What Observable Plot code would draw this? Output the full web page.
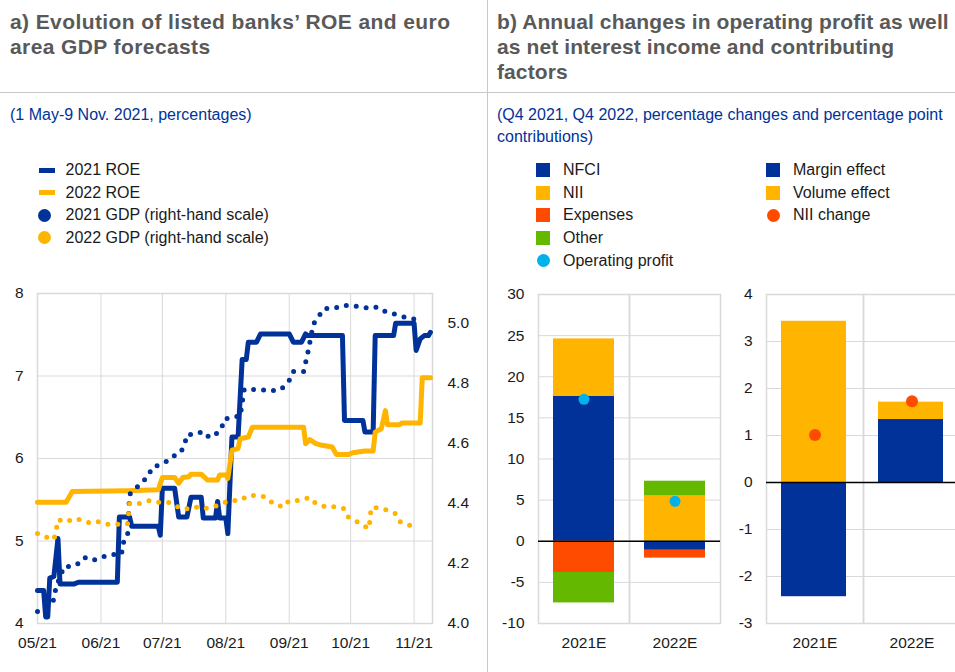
<!DOCTYPE html>
<html><head><meta charset="utf-8">
<script src="https://cdn.jsdelivr.net/npm/d3@7"></script>
<script src="https://cdn.jsdelivr.net/npm/@observablehq/plot@0.6"></script>
<style>
body{margin:0;background:#fff;font-family:"Liberation Sans",Arial,sans-serif;}
#root{position:relative;width:955px;height:672px;overflow:hidden;background:#fff;}
.abs{position:absolute;}
.title{font-weight:bold;color:#595959;font-size:21px;line-height:25px;white-space:nowrap;}
.sub{color:#003299;font-size:16px;line-height:21.5px;white-space:nowrap;}
.leg{font-size:16px;line-height:20px;color:#1a1a1a;white-space:nowrap;}
.sep{background:#c8c8c8;}
</style></head>
<body><div id="root">
<div class="abs sep" style="left:0;top:92px;width:955px;height:1px"></div>
<div class="abs sep" style="left:487px;top:0;width:1px;height:672px"></div>
<div class="abs title" style="left:10px;top:9px;letter-spacing:0.4px">a) Evolution of listed banks’ ROE and euro<br>area GDP forecasts</div>
<div class="abs title" style="left:497px;top:9px;letter-spacing:0.1px">b) Annual changes in operating profit as well<br>as net interest income and contributing<br>factors</div>
<div class="abs sub" style="left:10px;top:104px">(1 May-9 Nov. 2021, percentages)</div>
<div class="abs sub" style="left:497px;top:104px">(Q4 2021, Q4 2022, percentage changes and percentage point<br>contributions)</div>
<div id="legends"></div>
<div id="chartA" class="abs" style="left:0;top:280px;width:487px;height:380px"></div>
<div id="chartB" class="abs" style="left:490px;top:280px;width:232px;height:380px"></div>
<div id="chartC" class="abs" style="left:720px;top:280px;width:240px;height:380px"></div>
</div>
<script>
// ---------- Panel a data ----------
const monthTicks = ["2021-05-01","2021-06-01","2021-07-01","2021-08-01","2021-09-01","2021-10-01","2021-11-01"];
const roeTicks = [4,5,6,7,8];
const gdpTicks = [4.0,4.2,4.4,4.6,4.8,5.0];
const roe2021 = [["2021-05-01",4.40],["2021-05-04",4.40],["2021-05-05",4.08],["2021-05-06",4.08],["2021-05-07",4.55],["2021-05-09",4.57],["2021-05-11",5.03],["2021-05-12",4.48],["2021-05-19",4.48],["2021-05-21",4.50],["2021-06-09",4.50],["2021-06-10",5.29],["2021-06-15",5.29],["2021-06-16",5.18],["2021-06-29",5.18],["2021-06-30",5.07],["2021-07-01",5.64],["2021-07-07",5.64],["2021-07-09",5.29],["2021-07-13",5.29],["2021-07-15",5.53],["2021-07-20",5.53],["2021-07-21",5.28],["2021-07-27",5.28],["2021-07-28",5.48],["2021-07-29",5.28],["2021-08-01",5.28],["2021-08-02",5.09],["2021-08-04",6.26],["2021-08-07",6.26],["2021-08-09",7.20],["2021-08-11",7.20],["2021-08-12",7.41],["2021-08-16",7.41],["2021-08-18",7.51],["2021-09-01",7.51],["2021-09-03",7.41],["2021-09-07",7.41],["2021-09-09",7.51],["2021-09-10",7.49],["2021-09-27",7.49],["2021-09-28",6.46],["2021-10-07",6.46],["2021-10-08",6.32],["2021-10-12",6.32],["2021-10-13",7.49],["2021-10-22",7.49],["2021-10-23",7.64],["2021-11-01",7.64],["2021-11-02",7.31],["2021-11-04",7.45],["2021-11-06",7.49],["2021-11-08",7.49],["2021-11-09",7.53]];
const roe2022 = [["2021-05-01",5.47],["2021-05-15",5.47],["2021-05-18",5.60],["2021-06-14",5.61],["2021-06-29",5.62],["2021-07-01",5.77],["2021-07-07",5.77],["2021-07-09",5.70],["2021-07-11",5.77],["2021-07-14",5.78],["2021-07-15",5.81],["2021-07-20",5.81],["2021-07-23",5.74],["2021-07-28",5.74],["2021-07-29",5.80],["2021-08-01",5.80],["2021-08-02",5.76],["2021-08-04",6.10],["2021-08-07",6.12],["2021-08-08",6.24],["2021-08-12",6.26],["2021-08-14",6.38],["2021-09-08",6.38],["2021-09-09",6.18],["2021-09-11",6.23],["2021-09-14",6.18],["2021-09-17",6.16],["2021-09-22",6.14],["2021-09-24",6.05],["2021-09-30",6.05],["2021-10-02",6.07],["2021-10-08",6.09],["2021-10-12",6.09],["2021-10-13",6.32],["2021-10-16",6.36],["2021-10-18",6.58],["2021-10-19",6.41],["2021-10-25",6.41],["2021-10-26",6.43],["2021-11-04",6.43],["2021-11-05",6.98],["2021-11-09",6.98]];
const gdp2021 = [["2021-05-01",4.04],["2021-05-07",4.06],["2021-05-09",4.08],["2021-05-10",4.12],["2021-05-14",4.19],["2021-05-18",4.19],["2021-05-21",4.20],["2021-05-24",4.22],["2021-05-28",4.21],["2021-06-01",4.22],["2021-06-06",4.23],["2021-06-11",4.23],["2021-06-12",4.27],["2021-06-14",4.29],["2021-06-15",4.43],["2021-06-18",4.45],["2021-06-21",4.47],["2021-06-24",4.49],["2021-06-26",4.52],["2021-06-30",4.53],["2021-07-03",4.54],["2021-07-07",4.56],["2021-07-10",4.57],["2021-07-12",4.60],["2021-07-13",4.63],["2021-07-17",4.63],["2021-07-21",4.64],["2021-07-24",4.62],["2021-07-27",4.63],["2021-07-30",4.65],["2021-07-31",4.68],["2021-08-05",4.69],["2021-08-08",4.69],["2021-08-10",4.78],["2021-08-18",4.78],["2021-08-23",4.775],["2021-08-28",4.78],["2021-09-01",4.81],["2021-09-03",4.84],["2021-09-08",4.84],["2021-09-10",4.90],["2021-09-12",4.97],["2021-09-13",5.00],["2021-09-15",5.02],["2021-09-18",5.05],["2021-09-23",5.05],["2021-09-27",5.06],["2021-10-01",5.06],["2021-10-06",5.055],["2021-10-11",5.05],["2021-10-14",5.055],["2021-10-18",5.04],["2021-10-23",5.03],["2021-10-28",5.02],["2021-11-01",5.015]];
const gdp2022 = [["2021-05-01",4.30],["2021-05-06",4.286],["2021-05-09",4.28],["2021-05-10",4.306],["2021-05-11",4.346],["2021-05-15",4.338],["2021-05-19",4.35],["2021-05-22",4.346],["2021-05-27",4.334],["2021-05-31",4.34],["2021-06-05",4.33],["2021-06-14",4.332],["2021-06-15",4.40],["2021-06-20",4.40],["2021-06-25",4.41],["2021-06-29",4.404],["2021-07-04",4.404],["2021-07-08",4.39],["2021-07-12",4.38],["2021-07-16",4.39],["2021-07-21",4.382],["2021-07-26",4.388],["2021-07-30",4.40],["2021-08-03",4.41],["2021-08-08",4.41],["2021-08-12",4.427],["2021-08-17",4.427],["2021-08-21",4.42],["2021-08-24",4.40],["2021-08-29",4.388],["2021-09-01",4.41],["2021-09-06",4.41],["2021-09-11",4.42],["2021-09-14",4.40],["2021-09-19",4.388],["2021-09-24",4.39],["2021-09-28",4.382],["2021-09-30",4.354],["2021-10-04",4.34],["2021-10-08",4.324],["2021-10-10",4.316],["2021-10-11",4.386],["2021-10-15",4.386],["2021-10-19",4.377],["2021-10-23",4.366],["2021-10-25",4.34],["2021-10-29",4.33],["2021-11-02",4.316]];

// ---------- Panel b data ----------
const barCats = ["2021E","2022E"];
const opComponents = ["NFCI","NII","Expenses","Other"];
const op2021 = [17.6, 7.0, -3.8, -3.7];
const op2022 = [-1.1, 5.5, -0.95, 1.8];
const opProfit = [17.25, 4.85];
const opTicks = [-10,-5,0,5,10,15,20,25,30];
const niiComponents = ["Margin effect","Volume effect"];
const nii2021 = [-2.43, 3.43];
const nii2022 = [1.34, 0.37];
const niiChange = [1.01, 1.73];
const niiTicks = [-3,-2,-1,0,1,2,3,4];

const C = {blue:"#003299", yellow:"#FFB400", red:"#FF4B00", green:"#65B800", cyan:"#00B1EA"};
const grid = "#d9d9d9";
const axisStyle = {fontFamily:"'Liberation Sans', Arial, sans-serif", fontSize:"15.5px", color:"#1a1a1a", background:"transparent", overflow:"visible"};
const intFmt = d => String(d);

// ---------- Legends ----------
const legendItems = [
  {x:37, y:170.3, kind:"line", color:C.blue, text:"2021 ROE"},
  {x:37, y:192.7, kind:"line", color:C.yellow, text:"2022 ROE"},
  {x:37, y:215, kind:"dot", color:C.blue, text:"2021 GDP (right-hand scale)"},
  {x:37, y:237.7, kind:"dot", color:C.yellow, text:"2022 GDP (right-hand scale)"},
  {x:536, y:170, kind:"sq", color:C.blue, text:"NFCI"},
  {x:536, y:192.7, kind:"sq", color:C.yellow, text:"NII"},
  {x:536, y:215.3, kind:"sq", color:C.red, text:"Expenses"},
  {x:536, y:238, kind:"sq", color:C.green, text:"Other"},
  {x:536, y:260.7, kind:"dot", color:C.cyan, text:"Operating profit"},
  {x:766, y:170, kind:"sq", color:C.blue, text:"Margin effect"},
  {x:766, y:192.7, kind:"sq", color:C.yellow, text:"Volume effect"},
  {x:766, y:215.3, kind:"dot", color:C.red, text:"NII change"}
];
const legRoot = document.getElementById("legends");
for (const it of legendItems) {
  const sw = document.createElement("div");
  sw.className = "abs";
  if (it.kind === "line") {
    Object.assign(sw.style, {left:(it.x+2)+"px", top:(it.y-2.5)+"px", width:"16px", height:"5px", background:it.color});
  } else if (it.kind === "sq") {
    Object.assign(sw.style, {left:it.x+"px", top:(it.y-7)+"px", width:"14px", height:"14px", background:it.color});
  } else {
    Object.assign(sw.style, {left:(it.x+1)+"px", top:(it.y-6.5)+"px", width:"13px", height:"13px", borderRadius:"50%", background:it.color});
  }
  legRoot.appendChild(sw);
  const t = document.createElement("div");
  t.className = "abs leg";
  t.style.left = (it.x + (it.x < 480 ? 28.5 : 27)) + "px";
  t.style.top = (it.y - 10) + "px";
  t.textContent = it.text;
  legRoot.appendChild(t);
}

// ---------- Panel a chart ----------
const parse = d3.utcParse("%Y-%m-%d");
const rows = arr => arr.map(([d, v]) => ({date: parse(d), value: v}));
const gdpToLeft = g => 4 + (g - 4) * 4 / 1.1;
const leftToGdp = v => 4 + (v - 4) * 1.1 / 4;
const monthDates = monthTicks.map(parse);

const chartA = Plot.plot({
  width: 487, height: 380,
  marginTop: 13, marginBottom: 37, marginLeft: 37, marginRight: 55,
  style: axisStyle,
  x: {type: "utc", domain: [parse("2021-05-01"), parse("2021-11-10")]},
  y: {domain: [4, 8]},
  marks: [
    Plot.gridX(monthDates, {stroke: grid, strokeOpacity: 1}),
    Plot.gridY(roeTicks, {stroke: grid, strokeOpacity: 1}),
    Plot.frame({stroke: grid, strokeWidth: 1.5}),
    Plot.axisX(monthDates, {tickFormat: d3.utcFormat("%m/%y"), tickSize: 0, tickPadding: 13, label: null}),
    Plot.axisY(roeTicks, {anchor: "left", tickSize: 0, tickPadding: 14, label: null, tickFormat: intFmt}),
    Plot.axisY(gdpTicks.map(gdpToLeft), {anchor: "right", tickSize: 0, tickPadding: 15, label: null, tickFormat: d => leftToGdp(d).toFixed(1)}),
    Plot.line(rows(roe2021), {x: "date", y: "value", stroke: C.blue, strokeWidth: 5, strokeLinejoin: "round"}),
    Plot.line(rows(roe2022), {x: "date", y: "value", stroke: C.yellow, strokeWidth: 5, strokeLinejoin: "round"}),
    Plot.line(rows(gdp2021), {x: "date", y: d => gdpToLeft(d.value), stroke: C.blue, strokeWidth: 5, strokeDasharray: "0 10", strokeLinecap: "round"}),
    Plot.line(rows(gdp2022), {x: "date", y: d => gdpToLeft(d.value), stroke: C.yellow, strokeWidth: 5, strokeDasharray: "0 10", strokeLinecap: "round"})
  ]
});
document.getElementById("chartA").appendChild(chartA);

// ---------- Panel b charts ----------
function stackRows(components, v2021, v2022) {
  const out = [];
  components.forEach((c, i) => out.push({cat: barCats[0], comp: c, value: v2021[i]}));
  components.forEach((c, i) => out.push({cat: barCats[1], comp: c, value: v2022[i]}));
  return out;
}
function barChart({width, marginLeft, marginRight, ticks, domain, components, colors, v2021, v2022, dots, dotColor, dotR, insetL, insetR}) {
  return Plot.plot({
    width, height: 380,
    marginTop: 14, marginBottom: 37, marginLeft, marginRight,
    style: axisStyle,
    fx: {domain: barCats, padding: 0, axis: "bottom", label: null, tickSize: 0, tickPadding: 13},
    y: {domain, ticks, tickSize: 0, tickPadding: 14, label: null, tickFormat: intFmt},
    color: {domain: components, range: colors},
    marks: [
      Plot.gridY(ticks, {stroke: grid, strokeOpacity: 1}),
      Plot.frame({stroke: grid, strokeWidth: 1.5}),
      Plot.barY(stackRows(components, v2021, v2022), {fx: "cat", y: "value", fill: "comp", insetLeft: insetL, insetRight: insetR}),
      Plot.ruleY([0], {stroke: "#000", strokeWidth: 1.5}),
      Plot.dot(barCats.map((c, i) => ({cat: c, value: dots[i]})), {fx: "cat", y: "value", r: dotR, fill: dotColor, stroke: "none"})
    ]
  });
}
document.getElementById("chartB").appendChild(barChart({
  width: 232, marginLeft: 47, marginRight: 2, ticks: opTicks, domain: [-10, 30],
  components: opComponents, colors: [C.blue, C.yellow, C.red, C.green],
  v2021: op2021, v2022: op2022, dots: opProfit, dotColor: C.cyan, dotR: 5.5, insetL: 15, insetR: 15
}));
document.getElementById("chartC").appendChild(barChart({
  width: 240, marginLeft: 46, marginRight: 0, ticks: niiTicks, domain: [-3, 4],
  components: niiComponents, colors: [C.blue, C.yellow],
  v2021: nii2021, v2022: nii2022, dots: niiChange, dotColor: C.red, dotR: 6, insetL: 15, insetR: 17
}));
</script>
</body></html>
